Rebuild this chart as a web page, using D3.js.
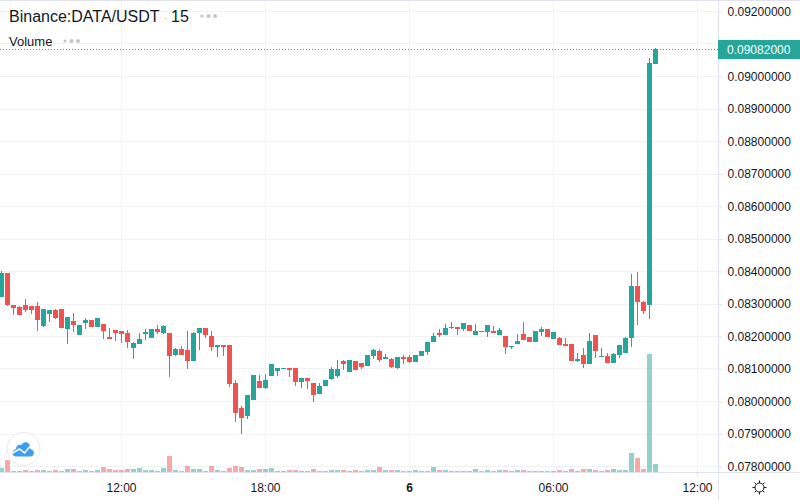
<!DOCTYPE html>
<html>
<head>
<meta charset="utf-8">
<style>
  html, body { margin: 0; padding: 0; background: #fff; }
  svg { display: block; font-family: "Liberation Sans", Arial, sans-serif; }
  .domain { display: none; }
</style>
<script src="https://cdnjs.cloudflare.com/ajax/libs/d3/7.8.5/d3.min.js"></script>
</head>
<body>
<svg id="chart" width="800" height="500"></svg>
<script>
// ------ data, prices in 1e-5 USDT
var opens = [8319,8395,8296,8290,8296,8293,8293,8232,8269,8281,8284,8223,8247,8204,8241,8250,8229,8238,8198,8220,
  8216,8210,8164,8176,8207,8195,8223,8210,8210,8143,8161,8158,8124,8210,8226,8201,8167,8173,8173,8056,
  7979,7955,8004,8062,8041,8078,8093,8099,8102,8102,8059,8072,8056,8022,8047,8069,8078,8124,8090,8124,
  8118,8109,8139,8155,8130,8130,8102,8136,8136,8121,8139,8152,8183,8210,8204,8226,8229,8223,8235,8204,
  8213,8213,8216,8204,8201,8167,8176,8207,8198,8183,8213,8223,8192,8195,8176,8176,8124,8143,8115,8204,
  8136,8140,8118,8143,8149,8195,8355,8306,8296,9038];
var highs = [8401,8395,8296,8293,8315,8293,8306,8284,8281,8284,8284,8260,8272,8235,8256,8250,8256,8238,8226,8220,
  8216,8220,8183,8210,8223,8223,8235,8235,8210,8164,8170,8216,8213,8226,8226,8216,8173,8173,8173,8066,
  7986,8019,8081,8081,8084,8115,8102,8102,8102,8102,8072,8072,8056,8056,8066,8106,8127,8127,8127,8124,
  8118,8142,8161,8161,8146,8133,8136,8142,8142,8142,8155,8183,8210,8222,8238,8244,8229,8241,8235,8238,
  8216,8235,8232,8226,8201,8170,8207,8244,8198,8216,8229,8223,8213,8198,8195,8176,8149,8164,8210,8204,
  8164,8149,8149,8173,8198,8392,8398,8309,9055,9085];
var lows = [8319,8291,8266,8266,8275,8269,8216,8229,8244,8253,8226,8176,8213,8204,8223,8229,8229,8192,8192,8186,
  8180,8164,8130,8176,8189,8195,8207,8207,8075,8140,8142,8099,8124,8158,8195,8155,8136,8139,8044,7936,
  7899,7946,8004,8041,8038,8078,8078,8099,8075,8047,8041,8038,7998,8022,8047,8066,8072,8096,8090,8096,
  8099,8109,8130,8121,8130,8102,8099,8115,8118,8121,8139,8142,8183,8198,8204,8223,8204,8216,8216,8204,
  8213,8198,8210,8204,8146,8161,8176,8189,8183,8183,8201,8198,8192,8173,8170,8124,8121,8103,8115,8133,
  8136,8118,8118,8133,8149,8167,8235,8269,8253,9038];
var closes = [8395,8294,8287,8266,8281,8281,8250,8284,8281,8256,8226,8260,8235,8235,8250,8229,8256,8216,8192,8210,
  8207,8183,8180,8192,8213,8223,8213,8232,8140,8161,8142,8124,8210,8226,8204,8167,8173,8167,8053,7964,
  7949,8019,8081,8041,8066,8115,8102,8102,8096,8059,8072,8062,8019,8047,8066,8099,8099,8115,8127,8096,
  8106,8142,8158,8127,8136,8106,8136,8130,8121,8142,8155,8183,8201,8204,8226,8229,8223,8241,8216,8216,
  8216,8235,8210,8219,8167,8170,8186,8189,8183,8216,8223,8198,8213,8173,8170,8124,8130,8115,8186,8155,
  8140,8118,8146,8173,8195,8355,8306,8278,9040,9082];
var volumes = [13,37,4,4,7,4,7,7,4,7,4,10,10,4,7,4,7,16,10,7,
  7,10,10,13,7,7,4,13,49,7,4,19,10,10,4,19,7,4,13,19,
  16,7,7,10,10,13,4,4,7,7,4,4,10,4,4,7,7,7,4,7,
  4,7,7,16,7,7,7,4,4,7,4,4,16,7,7,4,4,4,4,10,
  4,7,4,7,7,4,7,7,4,4,4,4,4,7,4,10,4,10,10,7,
  4,7,10,7,7,58,43,10,355,25];

var priceTicks = [7800,7900,8000,8100,8200,8300,8400,8500,8600,8700,8800,8900,9000,9100,9200];
var hiddenTick = 9100; // sits under the last price label
var timeTicks = [20,44,68,92,116];
var timeLabels = ["12:00","18:00","6","06:00","12:00"];
var lastPrice = 9082;

var upColor = "#26a69a", downColor = "#ef5350", gridColor = "#f1f2f4", borderColor = "#e0e3eb", textColor = "#131722";

var plotW = 718, plotB = 472;
var svg = d3.select("#chart");

// Scales
var xScale = d3.scaleLinear().domain([0, 116]).range([1, 697]);
var yScale = d3.scaleLinear().domain([7800, 9200]).range([466, 11]);
var yVol = d3.scaleLinear().domain([0, 355]).range([plotB, 354]);
var isUp = function(i) { return closes[i] >= opens[i]; };
var colorOf = function(i) { return isUp(i) ? upColor : downColor; };

// Grid
svg.append("g").selectAll("line").data(priceTicks).enter().append("line")
  .attr("x1", 0).attr("x2", plotW)
  .attr("y1", d => Math.round(yScale(d)) + 0.5).attr("y2", d => Math.round(yScale(d)) + 0.5)
  .style("stroke", gridColor);
svg.append("g").selectAll("line").data(timeTicks).enter().append("line")
  .attr("x1", d => xScale(d) + 0.5).attr("x2", d => xScale(d) + 0.5)
  .attr("y1", 0).attr("y2", plotB)
  .style("stroke", gridColor);

// Volume
var idx = d3.range(opens.length);
svg.append("g").selectAll("rect").data(idx).enter().append("rect")
  .attr("x", i => xScale(i) - 2).attr("width", 5)
  .attr("y", i => Math.round(yVol(volumes[i])))
  .attr("height", i => plotB - Math.round(yVol(volumes[i])))
  .style("fill", colorOf).style("opacity", 0.5);

// Last price line
svg.append("line")
  .attr("x1", 0).attr("x2", plotW)
  .attr("y1", Math.round(yScale(lastPrice)) + 0.5).attr("y2", Math.round(yScale(lastPrice)) + 0.5)
  .style("stroke", upColor).style("stroke-dasharray", "1,2");

// Candles
var candles = svg.append("g").attr("shape-rendering", "crispEdges").selectAll("g").data(idx).enter().append("g");
candles.append("rect")
  .attr("x", i => xScale(i)).attr("width", 1)
  .attr("y", i => Math.round(yScale(highs[i])))
  .attr("height", i => Math.max(1, Math.round(yScale(lows[i])) - Math.round(yScale(highs[i]))))
  .style("fill", colorOf);
candles.append("rect")
  .attr("x", i => xScale(i) - 2).attr("width", 5)
  .attr("y", i => Math.round(yScale(Math.max(opens[i], closes[i]))))
  .attr("height", i => Math.max(1, Math.round(yScale(Math.min(opens[i], closes[i]))) - Math.round(yScale(Math.max(opens[i], closes[i])))))
  .style("fill", colorOf);

// Borders
svg.append("line").attr("x1", 0).attr("x2", 800).attr("y1", 0.5).attr("y2", 0.5).style("stroke", borderColor);
svg.append("line").attr("x1", 718.5).attr("x2", 718.5).attr("y1", 0).attr("y2", 500).style("stroke", borderColor);
svg.append("line").attr("x1", 0).attr("x2", 800).attr("y1", 472.5).attr("y2", 472.5).style("stroke", borderColor);

// y-axis
var yAxis = d3.axisRight(yScale).tickValues(priceTicks.filter(d => d != hiddenTick)).tickSize(4).tickPadding(5)
  .tickFormat(d => (d / 100000).toFixed(8));
var yG = svg.append("g").attr("transform", "translate(718.5,0.5)").call(yAxis);
yG.selectAll("line").style("stroke", borderColor);
yG.selectAll("text").style("font-size", "12px").style("fill", textColor)
  .style("font-family", "'Liberation Sans', Arial, sans-serif");

// x-axis
var xAxis = d3.axisBottom(xScale).tickValues(timeTicks).tickSize(4).tickPadding(7)
  .tickFormat((d, i) => timeLabels[i]);
var xG = svg.append("g").attr("transform", "translate(0,472.5)").call(xAxis);
xG.selectAll("line").style("stroke", borderColor);
xG.selectAll("text").style("font-size", "12px").style("fill", textColor)
  .style("font-family", "'Liberation Sans', Arial, sans-serif")
  .style("font-weight", (d, i) => timeLabels[i] === "6" ? "bold" : "normal");

// Last price label
svg.append("rect").attr("x", 718).attr("y", 40).attr("width", 82).attr("height", 19).style("fill", upColor);
svg.append("text").attr("x", 727).attr("y", 54).style("font-size", "12px").style("fill", "#fff")
  .text((lastPrice / 100000).toFixed(8));

// Legend
svg.append("text").attr("x", 9).attr("y", 22).style("font-size", "16px").style("fill", textColor).text("Binance:DATA/USDT");
svg.append("text").attr("x", 163.5).attr("y", 22).style("font-size", "12px").style("fill", "#b2b5be").text("·");
svg.append("text").attr("x", 171).attr("y", 22).style("font-size", "16px").style("fill", textColor).text("15");
svg.append("text").attr("x", 9).attr("y", 46).style("font-size", "13px").style("fill", textColor).text("Volume");
[[202, 16], [208.5, 16], [215, 16], [65, 41], [71.5, 41], [78, 41]].forEach(function(p, i) {
  svg.append("circle").attr("cx", p[0]).attr("cy", p[1]).attr("r", i % 3 == 0 ? 1.6 : 2.1).style("fill", "#c4c6ce");
});

// Logo
var logo = svg.append("g").attr("transform", "translate(23.5,449)");
logo.append("circle").attr("r", 16.5).style("fill", "#fff").style("stroke", "#e6e8ee").style("stroke-width", 1);
logo.append("path")
  .attr("d", "M-7.5,7.5 C-12,7.5 -12,1 -7.5,0 C-7.5,-4 -4,-5 -2,-4 C0,-8.5 7,-7 6.5,-1.5 C11.5,-1.5 11.5,7.5 7.5,7.5 Z")
  .style("fill", "#3a9ff0");
logo.append("path")
  .attr("d", "M-11,4 L-4,0 L1,4 L6,-2 L11,2")
  .style("fill", "none").style("stroke", "#fff").style("stroke-width", 1.6);

// Settings icon
var gear = svg.append("g").attr("transform", "translate(759.5,487.5)").style("stroke", textColor).style("fill", "none");
gear.append("circle").attr("r", 4.5);
d3.range(8).forEach(function(k) {
  var a = k * Math.PI / 4;
  gear.append("line").attr("x1", 4.5 * Math.cos(a)).attr("y1", 4.5 * Math.sin(a))
    .attr("x2", 7 * Math.cos(a)).attr("y2", 7 * Math.sin(a));
});
</script>
</body>
</html>
